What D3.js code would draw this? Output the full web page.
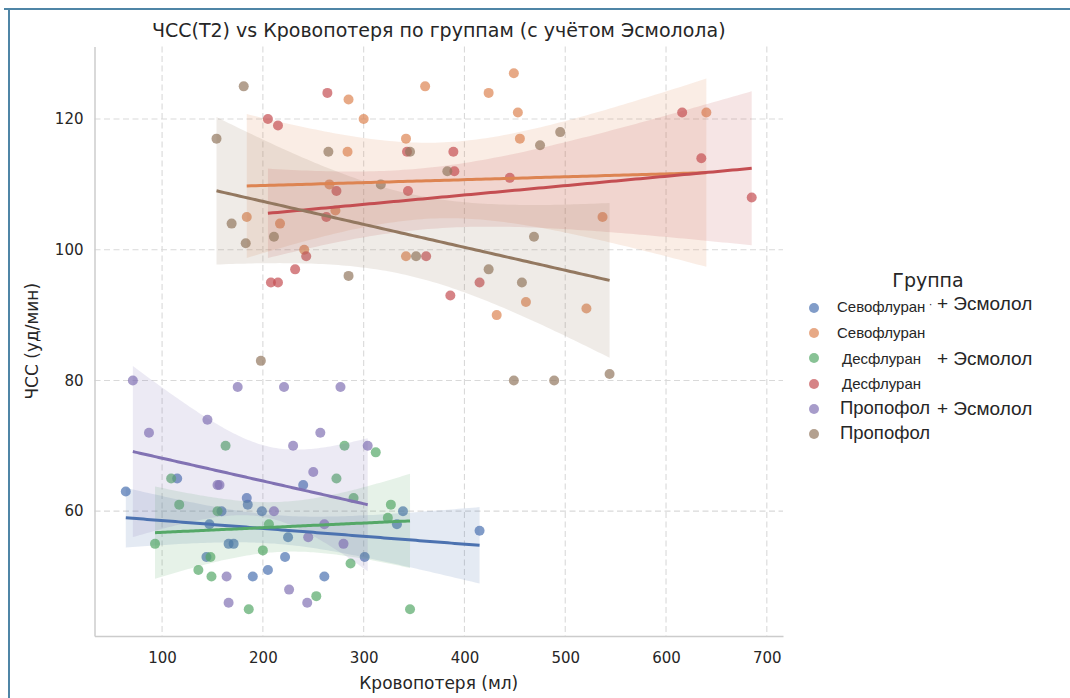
<!DOCTYPE html>
<html>
<head>
<meta charset="utf-8">
<script src="https://cdn.jsdelivr.net/npm/d3@7"></script>
<style>
  body { margin: 0; background: #fff; }
  svg { display: block; }
  text { font-family: "DejaVu Sans", sans-serif; fill: #262626; }
</style>
</head>
<body>
<svg id="chart" width="1070" height="698"></svg>
<script>
// blood loss (ml) and HR at T2 for each group
const sevoEsmX = [64, 115, 144, 147, 159, 166, 171, 184, 185, 190, 199, 205, 222, 225, 240, 261, 301, 333, 339, 415];
const sevoEsmY = [63, 65, 53, 58, 60, 55, 55, 62, 61, 50, 60, 51, 53, 56, 64, 50, 53, 58, 60, 57];

const sevoX = [184, 217, 241, 266, 272, 284, 285, 300, 342, 342, 361, 424, 432, 449, 453, 455, 461, 521, 537, 640];
const sevoY = [105, 104, 100, 110, 106, 115, 123, 120, 117, 99, 125, 124, 90, 127, 121, 117, 92, 91, 105, 121];

const desEsmX = [93, 109, 117, 136, 148, 149, 155, 163, 186, 200, 206, 253, 273, 281, 287, 290, 312, 324, 327, 346];
const desEsmY = [55, 65, 61, 51, 53, 50, 60, 70, 45, 54, 58, 47, 65, 70, 52, 62, 69, 59, 61, 45];

const desX = [205, 208, 215, 215, 232, 243, 263, 264, 273, 343, 344, 362, 386, 389, 390, 415, 445, 616, 635, 685];
const desY = [120, 95, 119, 95, 97, 99, 105, 124, 109, 115, 109, 99, 93, 115, 112, 95, 111, 121, 114, 108];

const propEsmX = [71, 87, 145, 155, 157, 164, 166, 175, 211, 221, 226, 230, 244, 245, 250, 257, 261, 277, 280, 304];
const propEsmY = [80, 72, 74, 64, 64, 50, 46, 79, 60, 79, 48, 70, 46, 56, 66, 72, 58, 79, 55, 70];

const propX = [154, 169, 181, 183, 198, 211, 265, 285, 317, 346, 352, 383, 424, 449, 457, 469, 475, 489, 495, 544];
const propY = [117, 104, 125, 101, 83, 102, 115, 96, 110, 115, 99, 112, 97, 80, 95, 102, 116, 80, 118, 81];

const groupNames = ['Севофлуран + Эсмолол', 'Севофлуран', 'Десфлуран + Эсмолол', 'Десфлуран', 'Пропофол + Эсмолол', 'Пропофол'];
const groupColors = ['#4C72B0', '#DD8452', '#55A868', '#C44E52', '#8172B3', '#937860'];
const xTicks = [100, 200, 300, 400, 500, 600, 700];
const yTicks = [60, 80, 100, 120];

const groups = [
  {x: sevoEsmX, y: sevoEsmY},
  {x: sevoX, y: sevoY},
  {x: desEsmX, y: desEsmY},
  {x: desX, y: desY},
  {x: propEsmX, y: propEsmY},
  {x: propX, y: propY}
];

const svg = d3.select('#chart');
const plotL = 94.5, plotR = 783, plotT = 46.5, plotB = 636;

// data range + 5% margins like matplotlib autoscale
const allX = groups.flatMap(g => g.x), allY = groups.flatMap(g => g.y);
const [x0, x1] = d3.extent(allX), [y0, y1] = d3.extent(allY);
const mx = (x1 - x0) * 0.05, my = (y1 - y0) * 0.05;

const x = d3.scaleLinear().domain([x0 - mx, x1 + mx]).range([plotL, plotR]);
const y = d3.scaleLinear().domain([y0 - my, y1 + my]).range([plotB, plotT]);

// frame of the screenshot
svg.append('line').attr('x1', 4).attr('x2', 1070).attr('y1', 9).attr('y2', 9)
  .attr('stroke', '#4f85a6').attr('stroke-width', 2);
svg.append('line').attr('x1', 9).attr('x2', 9).attr('y1', 9).attr('y2', 698)
  .attr('stroke', '#4f85a6').attr('stroke-width', 2);

// grid
const grid = svg.append('g').attr('stroke', '#d9d9d9').attr('stroke-width', 1.1).attr('stroke-dasharray', '6,3.5');
grid.selectAll('.vx').data(xTicks).enter().append('line')
  .attr('x1', d => x(d)).attr('x2', d => x(d)).attr('y1', plotT).attr('y2', plotB);
grid.selectAll('.hy').data(yTicks).enter().append('line')
  .attr('x1', plotL).attr('x2', plotR).attr('y1', d => y(d)).attr('y2', d => y(d));

// axes (labels only, no tick marks)
const xAxis = svg.append('g').attr('transform', `translate(0,${plotB})`)
  .call(d3.axisBottom(x).tickValues(xTicks).tickSize(0).tickPadding(16));
const yAxis = svg.append('g').attr('transform', `translate(${plotL},0)`)
  .call(d3.axisLeft(y).tickValues(yTicks).tickSize(0).tickPadding(11));
[xAxis, yAxis].forEach(a => {
  a.select('.domain').attr('stroke', '#cccccc').attr('stroke-width', 1.5);
  a.selectAll('text').style('font-family', '"DejaVu Sans", sans-serif').style('font-size', '15px').attr('fill', '#262626');
});

// simple OLS fit with 95% band
function fit(xs, ys){
  const n = xs.length;
  const mX = d3.mean(xs), mY = d3.mean(ys);
  let sxx = 0, sxy = 0;
  xs.forEach((v, i) => { sxx += (v - mX) ** 2; sxy += (v - mX) * (ys[i] - mY); });
  const b = sxy / sxx, a = mY - b * mX;
  let sse = 0;
  xs.forEach((v, i) => { sse += (ys[i] - a - b * v) ** 2; });
  const s = Math.sqrt(sse / (n - 2));
  const t = 2.101;
  const [lo, hi] = d3.extent(xs);
  return d3.range(0, 101).map(k => {
    const gx = lo + (hi - lo) * k / 100;
    const yh = a + b * gx;
    const se = s * Math.sqrt(1 / n + (gx - mX) ** 2 / sxx);
    return {x: gx, y: yh, lo: yh - t * se, hi: yh + t * se};
  });
}

const fits = groups.map(g => fit(g.x, g.y));

const area = d3.area().x(d => x(d.x)).y0(d => y(d.lo)).y1(d => y(d.hi));
const line = d3.line().x(d => x(d.x)).y(d => y(d.y));

groups.forEach((g, i) => {
  svg.append('g').selectAll('circle')
    .data(g.x.map((v, k) => [v, g.y[k]]))
    .enter().append('circle')
      .attr('cx', d => x(d[0]))
      .attr('cy', d => y(d[1]))
      .attr('r', 5)
      .attr('fill', groupColors[i])
      .attr('fill-opacity', 0.7);
  svg.append('path').datum(fits[i])
    .attr('d', area)
    .attr('fill', groupColors[i])
    .attr('fill-opacity', 0.15);
});

fits.forEach((f, i) => {
  svg.append('path').datum(f)
    .attr('d', line)
    .attr('fill', 'none')
    .attr('stroke', groupColors[i])
    .attr('stroke-width', 3);
});

// titles
svg.append('text').attr('x', (plotL + plotR) / 2).attr('y', 37)
  .attr('text-anchor', 'middle').style('font-size', '19px')
  .text('ЧСС(T2) vs Кровопотеря по группам (с учётом Эсмолола)');
svg.append('text').attr('x', (plotL + plotR) / 2).attr('y', 689)
  .attr('text-anchor', 'middle').style('font-size', '17px')
  .text('Кровопотеря (мл)');
svg.append('text').attr('transform', `translate(38,${(plotT + plotB) / 2}) rotate(-90)`)
  .attr('text-anchor', 'middle').style('font-size', '17px')
  .text('ЧСС (уд/мин)');

// legend (labels were re-typed in the source picture, so mixed sizes)
const legend = svg.append('g');
legend.append('text').attr('x', 928).attr('y', 287).attr('text-anchor', 'middle')
  .style('font-size', '19px').attr('fill', '#333').text('Группа');

const legRows = [
  {cy: 308, name: 'Севофлуран', nx: 837, ny: 312, ns: 15, esm: true, ey: 310},
  {cy: 333, name: 'Севофлуран', nx: 837, ny: 338, ns: 15, esm: false},
  {cy: 358, name: 'Десфлуран', nx: 842, ny: 364, ns: 15, esm: true, ey: 365},
  {cy: 384, name: 'Десфлуран', nx: 842, ny: 389, ns: 15, esm: false},
  {cy: 409, name: 'Пропофол', nx: 840, ny: 414, ns: 18.5, esm: true, ey: 415},
  {cy: 434, name: 'Пропофол', nx: 840, ny: 439, ns: 18.5, esm: false}
];

legRows.forEach((r, i) => {
  legend.append('circle').attr('cx', 814).attr('cy', r.cy).attr('r', 5)
    .attr('fill', groupColors[i]).attr('fill-opacity', 0.7);
  legend.append('text').attr('x', r.nx).attr('y', r.ny)
    .style('font-family', '"Liberation Sans", Arial, sans-serif')
    .style('font-size', r.ns + 'px').attr('fill', '#1a1a1a').text(r.name);
  if (r.esm) {
    legend.append('text').attr('x', 937).attr('y', r.ey)
      .style('font-family', '"Liberation Sans", Arial, sans-serif')
      .style('font-size', '19px').attr('fill', '#3a3a3a').text('+ Эсмолол');
  }
});
legend.append('text').attr('x', 929).attr('y', 308)
  .style('font-size', '10px').attr('fill', '#777').text('·');
</script>
</body>
</html>
